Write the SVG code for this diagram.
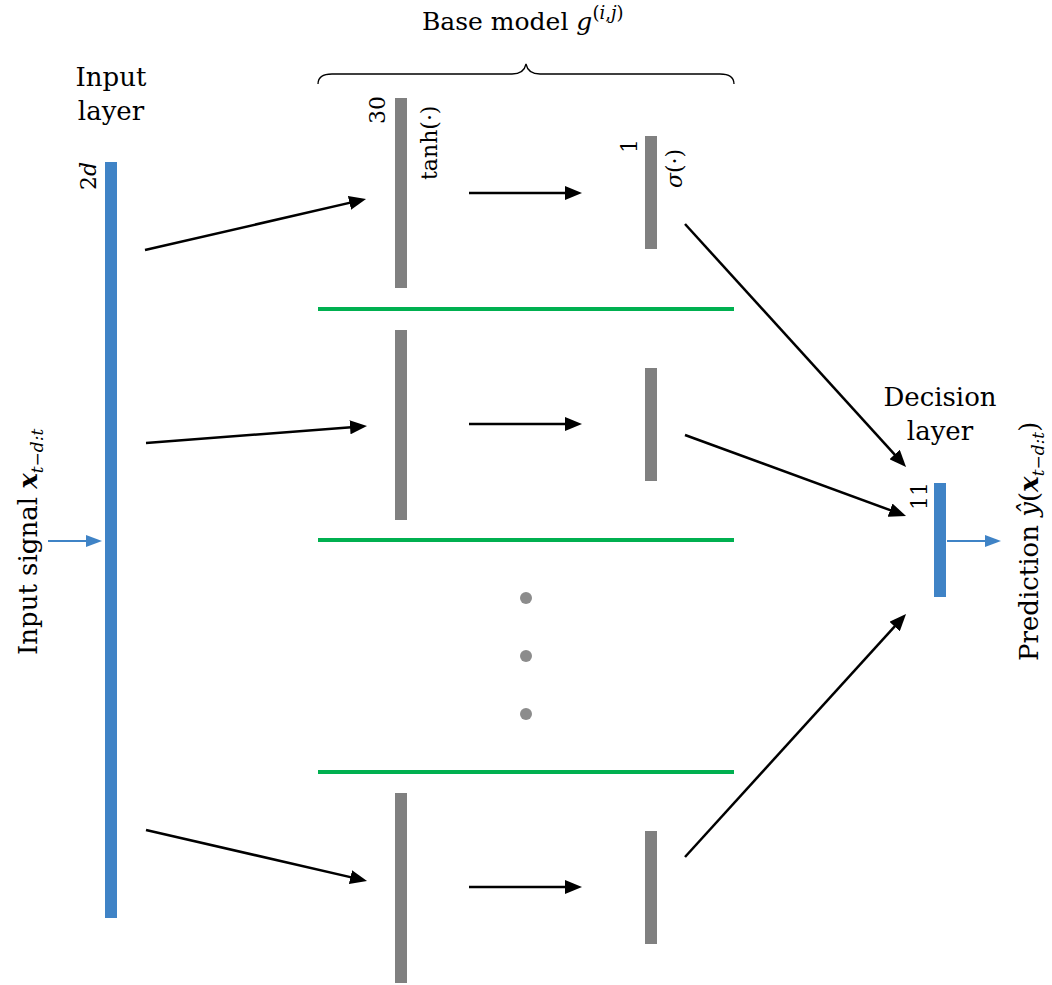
<svg xmlns="http://www.w3.org/2000/svg" width="1052" height="985" viewBox="0 0 1052 985">
<style>
text{font-family:'DejaVu Serif','Liberation Serif',serif;fill:#000}
.lbl{font-size:25px}
.big{font-size:26px}
.dim{font-size:22px}
.it{font-style:italic}
.bf{font-weight:bold}
.blue{fill:#3F83C6}
.gray{fill:#808080}
.green{stroke:#00B050;stroke-width:4}
.arr{stroke:#000;stroke-width:2.5;fill:none;marker-end:url(#ah)}
.barr{stroke:#3F83C6;stroke-width:2;fill:none;marker-end:url(#bh)}
</style>
<defs>
<marker id="ah" markerUnits="userSpaceOnUse" markerWidth="17" markerHeight="14" refX="11" refY="7" orient="auto"><path d="M0,0 L17,7 L0,14 z" fill="#000"/></marker>
<marker id="bh" markerUnits="userSpaceOnUse" markerWidth="16" markerHeight="12" refX="12" refY="6" orient="auto"><path d="M0,0 L16,6 L0,12 z" fill="#3F83C6"/></marker>
</defs>

<g id="title">
<text class="lbl" x="422" y="30">Base model <tspan class="it">g</tspan><tspan font-size="18" dy="-11">(<tspan class="it">i</tspan>,<tspan class="it">j</tspan>)</tspan></text>
<path d="M318,84 Q318,74 332,74 L512,74 Q524,74 526,64 Q528,74 540,74 L720,74 Q734,74 734,84" fill="none" stroke="#000" stroke-width="1.3"/>
</g>

<g id="input-layer">
<text class="big" x="111" y="86" text-anchor="middle">Input</text>
<text class="big" x="111" y="120" text-anchor="middle">layer</text>
<rect class="blue" x="105" y="162" width="12" height="756"/>
<text class="dim" transform="translate(96,190) rotate(-90)">2<tspan class="it">d</tspan></text>
</g>

<g id="input-signal">
<text class="big" transform="translate(37,655) rotate(-90)">Input signal <tspan class="bf it">x</tspan><tspan class="it" font-size="17" dy="6">t−d:t</tspan></text>
</g>

<g id="row1">
<rect class="gray" x="395" y="98" width="12" height="190"/>
<rect class="gray" x="645" y="136" width="12" height="113"/>
<text class="dim" transform="translate(385,124) rotate(-90)">30</text>
<text class="dim" transform="translate(437,180) rotate(-90)">tanh(·)</text>
<text class="dim" transform="translate(637,153) rotate(-90)">1</text>
<text class="dim" transform="translate(682,188) rotate(-90)"><tspan class="it">σ</tspan>(·)</text>
</g>

<g id="row2">
<rect class="gray" x="395" y="330" width="12" height="190"/>
<rect class="gray" x="645" y="368" width="12" height="113"/>
</g>

<g id="dots">
<circle cx="526" cy="598" r="6" fill="#8C8C8C"/>
<circle cx="526" cy="656" r="6" fill="#8C8C8C"/>
<circle cx="526" cy="714" r="6" fill="#8C8C8C"/>
</g>

<g id="row3">
<rect class="gray" x="395" y="793" width="12" height="190"/>
<rect class="gray" x="645" y="831" width="12" height="113"/>
</g>

<g id="separators">
<line class="green" x1="318" y1="309" x2="734" y2="309"/>
<line class="green" x1="318" y1="540" x2="734" y2="540"/>
<line class="green" x1="318" y1="772" x2="734" y2="772"/>
</g>

<g id="decision-layer">
<text class="big" x="940" y="406" text-anchor="middle">Decision</text>
<text class="big" x="940" y="440" text-anchor="middle">layer</text>
<rect class="blue" x="934" y="483" width="12" height="114"/>
<text class="dim" transform="translate(927,510) rotate(-90)">11</text>
</g>

<g id="prediction">
<text class="big" transform="translate(1038,661) rotate(-90)">Prediction  <tspan class="it">ŷ</tspan>(<tspan class="bf it">x</tspan><tspan class="it" font-size="17" dy="6">t−d:t</tspan><tspan dy="-6">)</tspan></text>
</g>

<g id="connectors">
<line class="barr" x1="48" y1="541" x2="98" y2="541"/>
<line class="barr" x1="947" y1="541" x2="997" y2="541"/>
<line class="arr" x1="145" y1="250" x2="360.2" y2="200.4"/>
<line class="arr" x1="469" y1="193" x2="576" y2="193"/>
<line class="arr" x1="146" y1="443" x2="361" y2="426.5"/>
<line class="arr" x1="469" y1="424" x2="576" y2="424"/>
<line class="arr" x1="146" y1="830" x2="361.2" y2="879.6"/>
<line class="arr" x1="469" y1="887" x2="576" y2="887"/>
<line class="arr" x1="685" y1="224" x2="902" y2="462.6"/>
<line class="arr" x1="685" y1="435" x2="900.4" y2="513.9"/>
<line class="arr" x1="685" y1="857" x2="902" y2="618.4"/>
</g>
</svg>
